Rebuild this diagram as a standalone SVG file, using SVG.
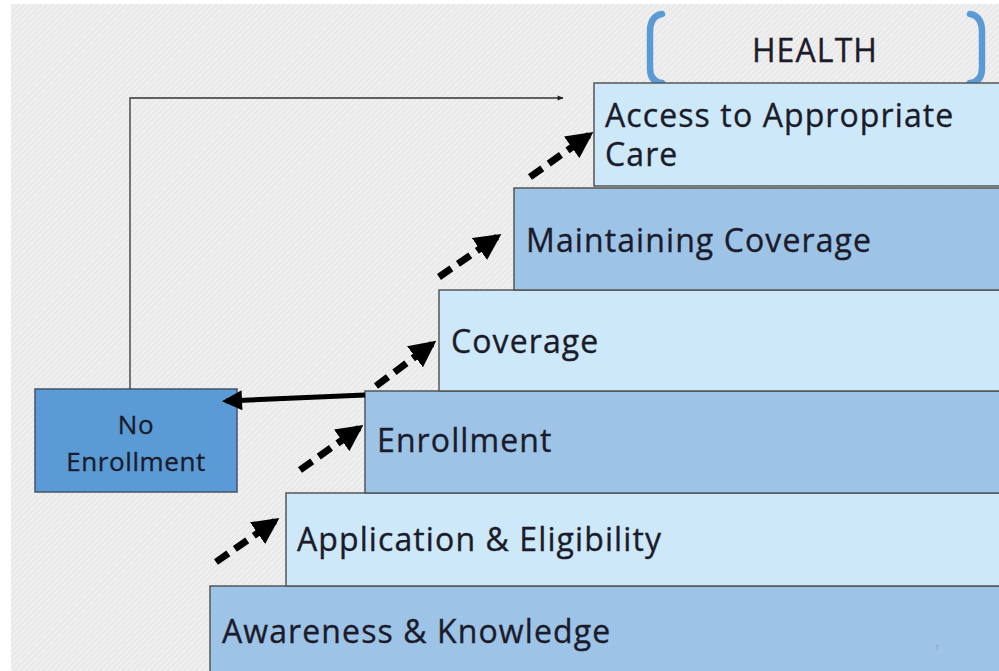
<svg xmlns="http://www.w3.org/2000/svg" width="999" height="671" viewBox="0 0 999 671">
<defs>
<pattern id="hatch" width="4" height="4" patternUnits="userSpaceOnUse" patternTransform="rotate(45)">
<rect width="4" height="4" fill="#EFEFEF"/>
<line x1="0" y1="0" x2="0" y2="4" stroke="#E0E0E0" stroke-width="1.5"/>
</pattern>
<marker id="headBig" viewBox="0 0 10 10" refX="8" refY="5" markerWidth="3.8" markerHeight="3.8" orient="auto" markerUnits="strokeWidth">
<path d="M0,0 L10,5 L0,10 Z" fill="#000"/>
</marker>
<marker id="headSolid" viewBox="0 0 10 10" refX="8" refY="5" markerWidth="4.2" markerHeight="4" orient="auto" markerUnits="strokeWidth">
<path d="M0,0 L10,5 L0,10 Z" fill="#000"/>
</marker>
<marker id="headThin" viewBox="0 0 10 10" refX="9" refY="5" markerWidth="8" markerHeight="6" orient="auto" markerUnits="userSpaceOnUse">
<path d="M0,1 L10,5 L0,9 Z" fill="#222"/>
</marker>
<style>
.step{stroke:#555;stroke-width:1.5}
.mid{fill:#9DC3E6}
.lite{fill:#CDE8F8}
.lbl{font-family:"Open Sans","Noto Sans",sans-serif;font-size:32px;letter-spacing:1.1px;fill:#1B1B2A;stroke:#1B1B2A;stroke-width:0.35}
.small{font-size:26px;letter-spacing:0.6px}
.dash{stroke:#000;stroke-width:7;stroke-dasharray:15 8;fill:none;marker-end:url(#headBig)}
.brk{fill:none;stroke:#5B9BD5;stroke-width:6.5;stroke-linecap:round}
</style>
</defs>
<rect width="999" height="671" fill="#FFFFFF"/>
<rect x="11" y="4" width="988" height="667" fill="url(#hatch)"/>

<g id="health">
<path class="brk" d="M662,14 Q650,16 650,32 L650,68 Q650,82 662,83"/>
<path class="brk" d="M970,14 Q982,16 982,32 L982,68 Q982,82 970,83"/>
<text x="815" y="62" text-anchor="middle" class="lbl">HEALTH</text>
</g>

<g id="awareness">
<rect class="step mid" x="210" y="586" width="800" height="100"/>
<text x="222" y="643" class="lbl">Awareness &amp; Knowledge</text>
<text x="935" y="650" font-family="Open Sans, sans-serif" font-size="8" fill="#8899AA">1</text>
</g>
<g id="application">
<rect class="step lite" x="286" y="493" width="720" height="93"/>
<text x="297" y="551" class="lbl">Application &amp; Eligibility</text>
</g>
<g id="enrollment">
<rect class="step mid" x="365" y="391" width="640" height="102"/>
<text x="377" y="452" class="lbl">Enrollment</text>
</g>
<g id="coverage">
<rect class="step lite" x="439" y="290" width="570" height="101"/>
<text x="451" y="353" class="lbl">Coverage</text>
</g>
<g id="maintaining">
<rect class="step mid" x="514" y="188" width="490" height="102"/>
<text x="526" y="252" class="lbl">Maintaining Coverage</text>
</g>
<g id="access">
<rect class="step lite" x="594" y="83" width="410" height="103"/>
<text x="605" y="127" class="lbl">Access to Appropriate</text>
<text x="605" y="166" class="lbl">Care</text>
</g>

<g id="no-enrollment">
<rect x="35" y="389" width="202" height="103" fill="#5B9BD5" stroke="#44546A" stroke-width="1.5"/>
<text x="136" y="434" text-anchor="middle" class="lbl small">No</text>
<text x="136" y="471" text-anchor="middle" class="lbl small">Enrollment</text>
</g>

<g id="connectors">
<polyline points="130,389 130,98 563,98" fill="none" stroke="#333" stroke-width="1.3" marker-end="url(#headThin)"/>
<line x1="365" y1="395" x2="226" y2="401" stroke="#000" stroke-width="5" marker-end="url(#headSolid)"/>
<line class="dash" x1="216" y1="562" x2="275" y2="521"/>
<line class="dash" x1="300" y1="470" x2="359" y2="428"/>
<line class="dash" x1="376" y1="386" x2="432" y2="344"/>
<line class="dash" x1="439" y1="277" x2="497" y2="237"/>
<line class="dash" x1="530" y1="177" x2="589" y2="135"/>
</g>
</svg>
